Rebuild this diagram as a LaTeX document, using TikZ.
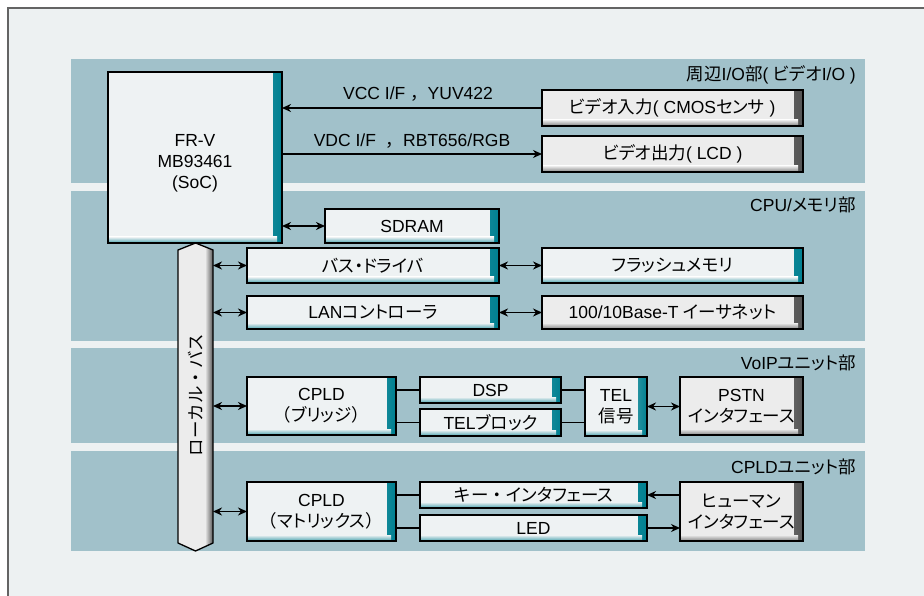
\documentclass[tikz,border=0pt]{standalone}
\usepackage{fontspec}
\setmainfont{Liberation Sans}
\newfontfamily\jp[RawFeature=+palt]{Noto Sans CJK JP}
\newfontfamily\jpf{Noto Sans CJK JP}
\usetikzlibrary{arrows.meta}
\newcommand{\J}[1]{{\jp #1}}
\newcommand{\JF}[1]{{\jpf #1}}
\definecolor{bgc}{RGB}{237,241,242}
\definecolor{bandc}{RGB}{161,193,202}
\definecolor{tealc}{RGB}{0,128,145}
\definecolor{grayc}{RGB}{85,85,85}
\definecolor{boxfill}{RGB}{238,242,243}
\definecolor{boxfillg}{RGB}{236,236,236}
\definecolor{framec}{RGB}{100,100,100}
\tikzset{
  txt/.style={font=\fontsize{17.5}{21}\selectfont},
  blk/.style 2 args={draw=black, line width=1.5pt, inner sep=0pt, outer sep=0pt,
    fill=#2, align=center, txt,
    path picture={
      \shade[left color=#2, right color=#1]
        ([xshift=-9pt]path picture bounding box.north east) rectangle (path picture bounding box.south east);
      \shade[top color=#2, bottom color=#1!70!#2]
        ([yshift=6pt]path picture bounding box.south west) rectangle ([xshift=-5pt]path picture bounding box.south east);
      \draw[white, line width=2.5pt]
        ([yshift=2pt]path picture bounding box.south west) -- (path picture bounding box.north west) -- ([xshift=-8pt]path picture bounding box.north east);
    }},
  blkT/.style={blk={tealc}{boxfill}},
  blkG/.style={blk={grayc}{boxfillg}},
  band/.style={fill=bandc, draw=none},
  sect/.style={txt, anchor=east, inner sep=0pt},
  lbl/.style={txt, inner sep=0pt},
  conn/.style={line width=1.6pt},
  tip/.tip={Stealth[length=9pt,width=8pt]},
  arr/.style={conn, -tip},
  darr/.style={conn, tip-tip}
}
\begin{document}
\begin{tikzpicture}[x=1pt,y=-1pt]
\useasboundingbox (0,0) rectangle (924,596);
\fill[white] (0,0) rectangle (924,596);
\fill[bgc] (8,8) rectangle (924,596);
\draw[framec, line width=1.2pt] (8,596) -- (8,8) -- (924,8);
% bands
\fill[band] (71,59) rectangle (865,183);
\fill[band] (71,191) rectangle (865,341);
\fill[band] (71,348) rectangle (865,443);
\fill[band] (71,451) rectangle (865,551);
% section labels
\node[sect] (s1) at (856,75) {\J{周辺}I/O\J{部}( \J{ビデオ}I/O )};
\node[sect] (s2) at (856,205) {CPU/\J{メモリ部}};
\node[sect] (s3) at (856,363) {VoIP\J{ユニット部}};
\node[sect] (s4) at (856,467) {CPLD\J{ユニット部}};
% boxes
\node[blkT, minimum width=174, minimum height=171] (frv) at (195,157.5) {};
\node[txt, align=center, inner sep=0pt] (frvtxt) at (195,163) {FR-V\\MB93461\\(SoC)};
\node[blkG, minimum width=261, minimum height=36] (vin) at (672.5,108) {\J{ビデオ入力}( CMOS\J{センサ} )};
\node[blkG, minimum width=261, minimum height=36] (vout) at (672.5,154) {\J{ビデオ出力}( LCD )};
\node[blkT, minimum width=174, minimum height=34] (sdram) at (412,226) {SDRAM};
\node[blkT, minimum width=252, minimum height=35] (busdrv) at (373,265.5) {\J{バス・ドライバ}};
\node[blkT, minimum width=252, minimum height=33] (lan) at (373,312.5) {LAN\J{コントローラ}};
\node[blkT, minimum width=261, minimum height=35] (flash) at (672.5,265.5) {\J{フラッシュメモリ}};
\node[blkG, minimum width=261, minimum height=33] (eth) at (672.5,312.5) {100/10Base-T \J{イーサネット}};
\node[blkT, minimum width=149, minimum height=58] (cpldb) at (321.5,406) {CPLD\\\JF{（}\J{ブリッジ}\JF{）}};
\node[blkT, minimum width=141, minimum height=26] (dsp) at (490.5,390) {DSP};
\node[blkT, minimum width=141, minimum height=27] (telb) at (490.5,422.5) {TEL\J{ブロック}};
\node[blkT, minimum width=62, minimum height=59] (tels) at (616,406.5) {TEL\\\J{信号}};
\node[blkG, minimum width=123, minimum height=58] (pstn) at (741.5,406) {PSTN\\\J{インタフェース}};
\node[blkT, minimum width=149, minimum height=59] (cpldm) at (321.5,511.5) {CPLD\\\JF{（}\J{マトリックス}\JF{）}};
\node[blkT, minimum width=227, minimum height=26] (key) at (533.5,495) {\JF{キー・}\J{インタフェース}};
\node[blkT, minimum width=227, minimum height=26] (led) at (533.5,528) {LED};
\node[blkG, minimum width=123, minimum height=59] (human) at (741.5,511.5) {\J{ヒューマン}\\\J{インタフェース}};
% local bus
\node[minimum width=35, minimum height=308, inner sep=0pt, outer sep=0pt] (bus) at (195.5,397) {};
\begin{scope}
  \clip ([yshift=-7pt]bus.north west) -- (bus.north) -- ([yshift=-7pt]bus.north east) -- ([yshift=8pt]bus.south east) -- (bus.south) -- ([yshift=8pt]bus.south west) -- cycle;
  \fill[boxfillg] (bus.north west) rectangle (bus.south east);
  \shade[left color=boxfillg, right color=grayc] ([xshift=-8pt]bus.north east) rectangle (bus.south east);
\end{scope}
\draw[black, line width=1.3pt, line join=miter] ([yshift=-7pt]bus.north west) -- (bus.north) -- ([yshift=-7pt]bus.north east) -- ([yshift=8pt]bus.south east) -- (bus.south) -- ([yshift=8pt]bus.south west) -- cycle;
\node[txt, rotate=90] (bustxt) at (196,395) {\JF{ローカル・バス}};
% connectors
\draw[arr] (vin.west) -- (vin.west -| frv.east);
\node[lbl] (l1) at (418,94) {VCC I/F \JF{，}YUV422};
\draw[arr] (frv.east |- vout.west) -- (vout.west);
\node[lbl] (l2) at (412,141) {VDC I/F \ \JF{，}RBT656/RGB};
\draw[darr] (frv.east |- sdram.west) -- (sdram.west);
\draw[darr] (bus.east |- busdrv.west) -- (busdrv.west);
\draw[darr] (busdrv.east) -- (flash.west);
\draw[darr] (bus.east |- lan.west) -- (lan.west);
\draw[darr] (lan.east) -- (eth.west);
\draw[darr] (bus.east |- cpldb.west) -- (cpldb.west);
\draw[conn] (cpldb.east |- dsp.west) -- (dsp.west);
\draw[conn] (cpldb.east |- telb.west) -- (telb.west);
\draw[conn] (dsp.east) -- (dsp.east -| tels.west);
\draw[conn] (telb.east) -- (telb.east -| tels.west);
\draw[darr] (tels.east) -- (tels.east -| pstn.west);
\draw[darr] (bus.east |- cpldm.west) -- (cpldm.west);
\draw[conn] (cpldm.east |- key.west) -- (key.west);
\draw[conn] (cpldm.east |- led.west) -- (led.west);
\draw[arr] (human.west |- key.east) -- (key.east);
\draw[arr] (led.east) -- (led.east -| human.west);
\end{tikzpicture}
\end{document}
